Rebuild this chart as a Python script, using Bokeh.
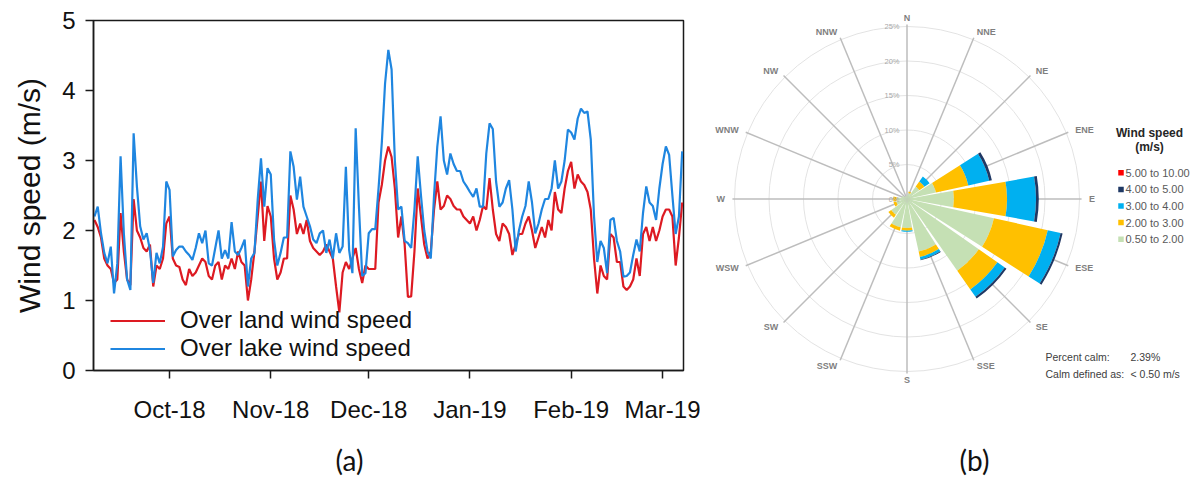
import numpy as np
import pandas as pd
from bokeh.plotting import figure
from bokeh.layouts import row, column
from bokeh.models import (Range1d, FixedTicker, DatetimeTickFormatter, Legend,
                          LegendItem)
from bokeh.embed import file_html
from bokeh.resources import INLINE
from bokeh.core.properties import value

# ---------------- data: panel (a) daily wind speed (m/s) ----------------
start_date = "2018-09-08"
land_speed = [
    2.15, 2.05, 1.90, 1.60, 1.50, 1.45, 1.25, 1.30, 2.25, 1.70,
    1.30, 1.22, 2.45, 2.00, 1.90, 1.75, 1.70, 1.80, 1.20, 1.50,
    1.45, 1.60, 2.10, 2.20, 1.60, 1.50, 1.48, 1.30, 1.22, 1.45,
    1.35, 1.40, 1.50, 1.60, 1.55, 1.35, 1.30, 1.50, 1.55, 1.30,
    1.50, 1.45, 1.60, 1.45, 1.70, 1.55, 1.50, 1.00, 1.30, 1.70,
    2.20, 2.70, 1.85, 2.35, 2.20, 1.60, 1.30, 1.40, 1.60, 1.60,
    2.50, 2.30, 1.95, 2.10, 1.95, 2.15, 1.85, 1.75, 1.70, 1.65,
    1.70, 1.80, 1.70, 1.60, 1.20, 0.83, 1.40, 1.55, 1.45, 1.60,
    1.75, 1.45, 1.25, 1.50, 1.45, 1.45, 1.45, 2.40, 2.65, 3.00,
    3.20, 3.05, 2.60, 1.90, 2.20, 1.80, 1.05, 1.06, 1.70, 2.60,
    2.20, 1.80, 1.60, 1.70, 2.30, 2.70, 2.30, 2.35, 2.50, 2.45,
    2.35, 2.30, 2.30, 2.20, 2.15, 2.10, 2.20, 2.00, 2.15, 2.35,
    2.30, 2.75, 2.30, 1.95, 1.85, 2.10, 2.05, 1.95, 1.65, 1.80,
    1.95, 1.95, 2.10, 2.20, 2.00, 1.75, 1.90, 2.05, 1.90, 2.15,
    2.00, 2.55, 2.30, 2.25, 2.60, 2.85, 2.98, 2.60, 2.80, 2.70,
    2.65, 2.55, 2.30, 1.60, 1.10, 1.50, 1.35, 1.30, 1.95, 1.90,
    1.55, 1.55, 1.20, 1.15, 1.20, 1.30, 1.60, 1.35, 1.95, 2.05,
    1.85, 2.05, 1.85, 2.00, 2.20, 2.30, 2.30, 2.20, 1.50, 1.90,
    2.40,
]
lake_speed = [
    2.20, 2.34, 1.96, 1.68, 1.53, 1.77, 1.10, 1.53, 3.06, 1.96,
    1.30, 1.15, 3.39, 2.63, 2.06, 1.87, 1.96, 1.72, 1.25, 1.68,
    1.53, 1.77, 2.70, 2.58, 1.63, 1.72, 1.77, 1.77, 1.70, 1.65,
    1.58, 1.75, 1.96, 1.82, 2.00, 1.53, 1.50, 1.75, 2.00, 1.60,
    1.72, 1.60, 2.12, 1.70, 1.65, 1.75, 1.87, 1.20, 1.60, 1.68,
    2.44, 3.03, 2.34, 2.89, 2.80, 1.87, 1.50, 1.68, 1.90, 1.90,
    3.13, 2.91, 2.44, 2.77, 2.34, 2.20, 2.06, 1.87, 1.82, 1.96,
    2.00, 1.68, 1.87, 1.60, 1.96, 1.68, 1.77, 2.91, 1.72, 1.39,
    3.46, 2.34, 1.35, 1.39, 1.96, 2.02, 2.02, 2.60, 3.25, 4.10,
    4.58, 4.30, 3.00, 2.30, 2.34, 1.85, 1.82, 1.75, 2.30, 3.06,
    2.50, 2.00, 1.70, 1.60, 2.50, 3.20, 3.63, 3.00, 2.80, 3.10,
    2.95, 2.85, 2.85, 2.70, 2.63, 2.55, 2.48, 2.60, 2.34, 2.34,
    3.10, 3.53, 3.45, 2.70, 2.34, 2.40, 2.60, 2.72, 2.30, 1.70,
    2.00, 2.20, 2.35, 2.70, 2.40, 1.96, 2.10, 2.30, 2.45, 2.45,
    2.60, 3.00, 2.60, 2.70, 3.00, 3.44, 3.40, 3.30, 3.60, 3.74,
    3.68, 3.70, 3.30, 2.20, 1.55, 1.85, 1.75, 1.39, 2.15, 2.18,
    1.85, 1.70, 1.34, 1.35, 1.40, 1.65, 1.87, 1.70, 2.25, 2.63,
    2.40, 2.35, 2.15, 2.60, 2.95, 3.20, 3.08, 2.50, 1.95, 2.20,
    3.13,
]
month_ticks = ["2018-10-01", "2018-11-01", "2018-12-01",
               "2019-01-01", "2019-02-01", "2019-03-01"]
y_ticks = [0, 1, 2, 3, 4, 5]
series_names = ["Over land wind speed", "Over lake wind speed"]

# ---------------- data: panel (b) wind rose (% of time) ----------------
directions = ["N", "NNE", "NE", "ENE", "E", "ESE", "SE", "SSE",
              "S", "SSW", "SW", "WSW", "W", "WNW", "NW", "NNW"]
bin_labels = ["0.50 to 2.00", "2.00 to 3.00", "3.00 to 4.00",
              "4.00 to 5.00", "5.00 to 10.00"]
freq_0p5_2 = [0.5, 0.9, 2.2, 4.3, 6.8, 12.9, 12.7, 7.8, 4.2, 4.2, 2.8, 1.6, 1.5, 0.8, 0.5, 0.4]
freq_2_3 = [0.0, 0.2, 0.9, 4.8, 7.7, 8.0, 3.3, 0.8, 0.4, 0.5, 0.5, 0.4, 0.5, 0.0, 0.0, 0.0]
freq_3_4 = [0.0, 0.0, 0.9, 3.1, 4.2, 1.9, 1.3, 0.4, 0.15, 0.0, 0.0, 0.0, 0.0, 0.0, 0.0, 0.0]
freq_4_5 = [0.0, 0.0, 0.0, 0.4, 0.4, 0.3, 0.3, 0.1, 0.0, 0.0, 0.0, 0.0, 0.0, 0.0, 0.0, 0.0]
freq_5_10 = [0.0] * 16
ring_levels = [5, 10, 15, 20, 25]
calm_rows = [("Percent calm:", "2.39%"), ("Calm defined as:", "< 0.50 m/s")]
captions = ["(a)", "(b)"]

FONT = "Liberation Sans"
TOP_H, CAP_H = 440, 39

# ======================= panel (a) =======================
assert len(land_speed) == len(lake_speed)
dates = pd.date_range(start_date, periods=len(land_speed), freq="D")

W1, H1 = 700, TOP_H
FL, FR, FT, FB = 93, 683, 20, 370
t0 = pd.Timestamp(start_date) - pd.Timedelta(hours=7)
t1 = pd.Timestamp(start_date) + pd.Timedelta(days=180.4)

p1 = figure(width=W1, height=H1, x_axis_type="datetime",
            x_range=Range1d(t0, t1), y_range=Range1d(0, 5),
            toolbar_location=None, output_backend="svg",
            min_border_left=FL, min_border_right=W1 - FR,
            min_border_top=FT, min_border_bottom=H1 - FB)
p1.frame_align = False
p1.xgrid.visible = False
p1.ygrid.visible = False
p1.outline_line_color = "#1a1a1a"
p1.outline_line_width = 1.5

r_land = p1.line(dates, land_speed, line_color="#dd1a22", line_width=2.2)
r_lake = p1.line(dates, lake_speed, line_color="#1f86e0", line_width=2.2)

for ax in (p1.xaxis[0], p1.yaxis[0]):
    ax.axis_line_color = "#1a1a1a"
    ax.axis_line_width = 1.5
    ax.major_tick_line_color = "#1a1a1a"
    ax.major_tick_line_width = 1.5
    ax.major_tick_in = 0
    ax.major_tick_out = 8
    ax.minor_tick_line_color = None
    ax.major_label_text_font = FONT
    ax.major_label_text_font_size = "24px"
    ax.major_label_text_color = "#111111"

p1.xaxis.ticker = FixedTicker(ticks=[pd.Timestamp(m).value / 1e6 for m in month_ticks])
p1.xaxis.formatter = DatetimeTickFormatter(days="%b-%y", months="%b-%y", years="%b-%y")
p1.xaxis.major_label_standoff = 17
p1.yaxis.ticker = FixedTicker(ticks=y_ticks)
p1.yaxis.major_label_standoff = 10
p1.yaxis.axis_label = "Wind speed (m/s)"
p1.yaxis.axis_label_text_font = FONT
p1.yaxis.axis_label_text_font_size = "30px"
p1.yaxis.axis_label_text_font_style = "normal"
p1.yaxis.axis_label_text_color = "#111111"
p1.yaxis.axis_label_standoff = 13

legend = Legend(items=[LegendItem(label=series_names[0], renderers=[r_land]),
                       LegendItem(label=series_names[1], renderers=[r_lake])],
                location=(17, 8), border_line_color=None,
                background_fill_alpha=0, padding=0, margin=0, spacing=0,
                glyph_width=55, glyph_height=27, label_height=27,
                label_standoff=15, label_text_font=FONT,
                label_text_font_size="24px", label_text_color="#111111")
p1.add_layout(legend)

# ======================= panel (b) =======================
W2, H2 = 492, TOP_H
PX0, PY0 = 700, 0          # page position of panel (b)
S = 6.9                    # pixels per percent
cx, cy = 906.5 - PX0, 198.5 - PY0
x0, x1 = -cx / S, (W2 - cx) / S
y1, y0 = cy / S, -(H2 - cy) / S


def fx(px):
    return x0 + (px - PX0) / S


def fy(py):
    return y1 - (py - PY0) / S


p2 = figure(width=W2, height=H2, x_range=Range1d(x0, x1), y_range=Range1d(y0, y1),
            x_axis_type=None, y_axis_type=None, toolbar_location=None,
            output_backend="svg", min_border=0, outline_line_color=None)
p2.frame_align = False
p2.min_border_left = p2.min_border_right = p2.min_border_top = p2.min_border_bottom = 0

bearings = np.arange(16) * 22.5
brad = np.deg2rad(bearings)

p2.circle(x=[0] * len(ring_levels), y=[0] * len(ring_levels), radius=ring_levels,
          fill_color=None, line_color="#e3e3e3", line_width=1)
R_SPOKE = 25.3
p2.segment(x0=[0] * 16, y0=[0] * 16, x1=R_SPOKE * np.sin(brad), y1=R_SPOKE * np.cos(brad),
           line_color="#bdbdbd", line_width=1.5)

bins = [freq_0p5_2, freq_2_3, freq_3_4, freq_4_5, freq_5_10]
colors = ["#c5e0b4", "#ffc000", "#00b0f0", "#1f3864", "#ff0000"]
ang = np.deg2rad(90 - bearings)
half = np.deg2rad(10.0)
cum = np.zeros(16)
for f, c in zip(bins, colors):
    f = np.array(f, dtype=float)
    inner = cum.copy()
    outer = cum + f
    m = f > 0
    if m.any():
        p2.annular_wedge(x=0, y=0, inner_radius=inner[m], outer_radius=outer[m],
                         start_angle=(ang - half)[m], end_angle=(ang + half)[m],
                         fill_color=c, line_color=None)
    cum = outer

# direction labels: placed just outside the outer ring, shifted by half their width
LAB_PX = 9
char_w = {"N": 0.722, "E": 0.667, "S": 0.667, "W": 0.944}
half_w = np.array([sum(char_w[ch] for ch in d) * LAB_PX / 2 for d in directions])
sinb, cosb = np.sin(brad), np.cos(brad)
lab_x = (182 * sinb + np.sign(np.round(sinb, 6)) * half_w) / S
lab_y = (181 * cosb) / S
p2.text(x=lab_x, y=lab_y, text=directions,
        text_font=value(FONT), text_font_size=value(f"{LAB_PX}px"), text_font_style="bold",
        text_color="#7f7f7f", text_align="center", text_baseline="middle")

pct_levels = [0] + ring_levels
p2.text(x=[fx(899)] * len(pct_levels), y=pct_levels, text=[f"{v}%" for v in pct_levels],
        text_font=value(FONT), text_font_size=value("7.5px"),
        text_color="#a8a8a8", text_align="right", text_baseline="middle")

# legend of panel (b)
p2.text(x=[fx(1149), fx(1149)], y=[fy(132), fy(146.5)], text=["Wind speed", "(m/s)"],
        text_font=value(FONT), text_font_size=value("12px"), text_font_style="bold",
        text_color="#262626", text_align="center", text_baseline="middle")
leg_labels = bin_labels[::-1]
leg_colors = colors[::-1]
leg_y = [fy(172.3 + 16.6 * i) for i in range(len(leg_labels))]
p2.scatter(x=[fx(1120.5)] * len(leg_labels), y=leg_y, marker="square", size=5.5,
           fill_color=leg_colors, line_color=None)
p2.text(x=[fx(1125)] * len(leg_labels), y=leg_y, text=leg_labels,
        text_font=value(FONT), text_font_size=value("11px"),
        text_color="#595959", text_align="left", text_baseline="middle")

calm_y = [fy(356.7), fy(373.3)]
p2.text(x=[fx(1045)] * 2, y=calm_y, text=[r[0] for r in calm_rows],
        text_font=value(FONT), text_font_size=value("10.5px"),
        text_color="#404040", text_align="left", text_baseline="middle")
p2.text(x=[fx(1130)] * 2, y=calm_y, text=[r[1] for r in calm_rows],
        text_font=value(FONT), text_font_size=value("10.5px"),
        text_color="#404040", text_align="left", text_baseline="middle")

# ======================= caption strip =======================
p3 = figure(width=W1 + W2, height=CAP_H, x_range=Range1d(0, W1 + W2),
            y_range=Range1d(TOP_H + CAP_H, TOP_H),
            x_axis_type=None, y_axis_type=None, toolbar_location=None,
            output_backend="svg", min_border=0, outline_line_color=None)
p3.frame_align = False
p3.min_border_left = p3.min_border_right = p3.min_border_top = p3.min_border_bottom = 0
p3.text(x=[349, 974], y=[459, 459], text=captions, text_font=value("Lato"),
        text_font_size=value("28px"), text_color="#111111",
        text_align="center", text_baseline="middle")

layout = column(row(p1, p2), p3)
open("out.html", "w").write(file_html(layout, INLINE))
